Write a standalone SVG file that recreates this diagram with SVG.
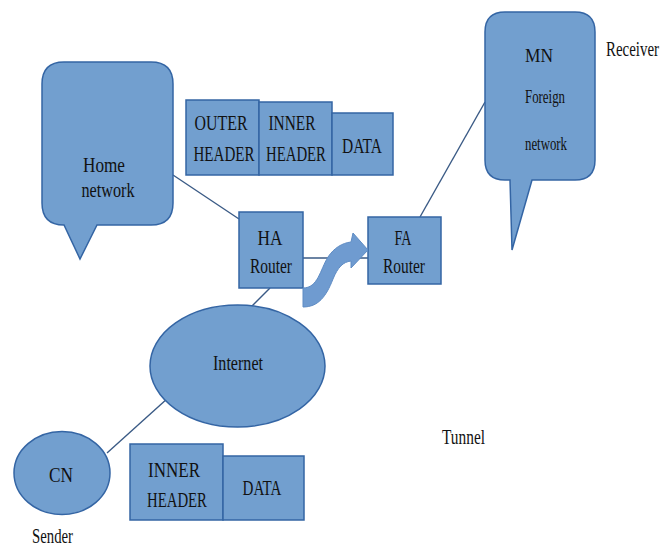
<svg xmlns="http://www.w3.org/2000/svg" width="663" height="546" viewBox="0 0 663 546" font-family="Liberation Serif, serif">
<style>
.shape{fill:#729fcf;stroke:#3465a4;stroke-width:1.5}
.conn{stroke:#3a5a85;stroke-width:1.4;fill:none}
.t{font-size:21px;fill:#111;text-anchor:middle}
.sm{font-size:18px}
.lbl{text-anchor:start}
</style>
<rect width="663" height="546" fill="#ffffff"/>
<g id="connectors">
<line class="conn" x1="173" y1="175" x2="239" y2="219"/>
<line class="conn" x1="303" y1="258" x2="368" y2="258"/>
<line class="conn" x1="270" y1="288" x2="252" y2="306"/>
<line class="conn" x1="420" y1="217" x2="485" y2="102"/>
<line class="conn" x1="107" y1="453" x2="168" y2="398"/>
</g>
<g id="home-network">
<path class="shape" d="M64,62 H151 Q173,62 173,84 V203 Q173,225 151,225 H97 L80,259 L64,225 Q42,225 42,203 V84 Q42,62 64,62 Z"/>
<text class="t" font-family="Liberation Serif, serif" x="104" y="172" textLength="42" lengthAdjust="spacingAndGlyphs">Home</text>
<text class="t" font-family="Liberation Serif, serif" x="108" y="197" textLength="53" lengthAdjust="spacingAndGlyphs">network</text>
</g>
<g id="packet-tunnel">
<rect class="shape" x="186" y="100" width="73" height="75"/>
<rect class="shape" x="259" y="102" width="73" height="73"/>
<rect class="shape" x="332" y="113" width="61" height="62"/>
<text class="t" font-family="Liberation Serif, serif" x="221" y="130" textLength="53" lengthAdjust="spacingAndGlyphs">OUTER</text>
<text class="t" font-family="Liberation Serif, serif" x="224" y="161" textLength="61" lengthAdjust="spacingAndGlyphs">HEADER</text>
<text class="t" font-family="Liberation Serif, serif" x="292" y="130" textLength="47" lengthAdjust="spacingAndGlyphs">INNER</text>
<text class="t" font-family="Liberation Serif, serif" x="296" y="161" textLength="60" lengthAdjust="spacingAndGlyphs">HEADER</text>
<text class="t" font-family="Liberation Serif, serif" x="362" y="153" textLength="40" lengthAdjust="spacingAndGlyphs">DATA</text>
</g>
<g id="ha-router">
<rect class="shape" x="239" y="212" width="64" height="76"/>
<text class="t" font-family="Liberation Serif, serif" x="270" y="245" textLength="25" lengthAdjust="spacingAndGlyphs">HA</text>
<text class="t" font-family="Liberation Serif, serif" x="271" y="273" textLength="42" lengthAdjust="spacingAndGlyphs">Router</text>
</g>
<g id="fa-router">
<rect class="shape" x="368" y="217" width="73" height="67"/>
<text class="t" font-family="Liberation Serif, serif" x="403" y="245" textLength="17" lengthAdjust="spacingAndGlyphs">FA</text>
<text class="t" font-family="Liberation Serif, serif" x="404" y="273" textLength="42" lengthAdjust="spacingAndGlyphs">Router</text>
</g>
<g id="tunnel-arrow">
<path d="M303,288 C318,288 320,270 328,257 C334,248 342,243 351,242 L353,233 L368,250 L351,268 L351,261 C343,262 338,267 333,279 C326,297 318,307 303,307 Z" fill="#6f9bd0" stroke="#5f8cc4" stroke-width="1"/>
</g>
<g id="mn-foreign">
<path class="shape" d="M505,12 H575 Q595,12 595,32 V160 Q595,180 575,180 H532 L512,250 L510,180 H505 Q485,180 485,160 V32 Q485,12 505,12 Z"/>
<text class="t sm" font-family="Liberation Serif, serif" x="539" y="62" textLength="28" lengthAdjust="spacingAndGlyphs">MN</text>
<text class="t sm" font-family="Liberation Serif, serif" x="545" y="103" textLength="40" lengthAdjust="spacingAndGlyphs">Foreign</text>
<text class="t sm" font-family="Liberation Serif, serif" x="546" y="150" textLength="42" lengthAdjust="spacingAndGlyphs">network</text>
</g>
<g id="internet">
<ellipse class="shape" cx="237.5" cy="366" rx="87.5" ry="61"/>
<text class="t" font-family="Liberation Serif, serif" x="238" y="370" textLength="50" lengthAdjust="spacingAndGlyphs">Internet</text>
</g>
<g id="cn">
<ellipse class="shape" cx="62" cy="473" rx="48" ry="41.5"/>
<text class="t" font-family="Liberation Serif, serif" x="61" y="482" textLength="24" lengthAdjust="spacingAndGlyphs">CN</text>
</g>
<g id="packet-original">
<rect class="shape" x="130" y="444" width="93" height="76"/>
<rect class="shape" x="223" y="456" width="81" height="64"/>
<text class="t" font-family="Liberation Serif, serif" x="174" y="477" textLength="52" lengthAdjust="spacingAndGlyphs">INNER</text>
<text class="t" font-family="Liberation Serif, serif" x="177" y="507" textLength="60" lengthAdjust="spacingAndGlyphs">HEADER</text>
<text class="t" font-family="Liberation Serif, serif" x="262" y="495" textLength="39" lengthAdjust="spacingAndGlyphs">DATA</text>
</g>
<g id="labels">
<text class="t lbl" font-family="Liberation Serif, serif" x="606" y="56" textLength="53" lengthAdjust="spacingAndGlyphs">Receiver</text>
<text class="t lbl" font-family="Liberation Serif, serif" x="442" y="444" textLength="43" lengthAdjust="spacingAndGlyphs">Tunnel</text>
<text class="t lbl" font-family="Liberation Serif, serif" x="32" y="543" textLength="41" lengthAdjust="spacingAndGlyphs">Sender</text>
</g>
</svg>
